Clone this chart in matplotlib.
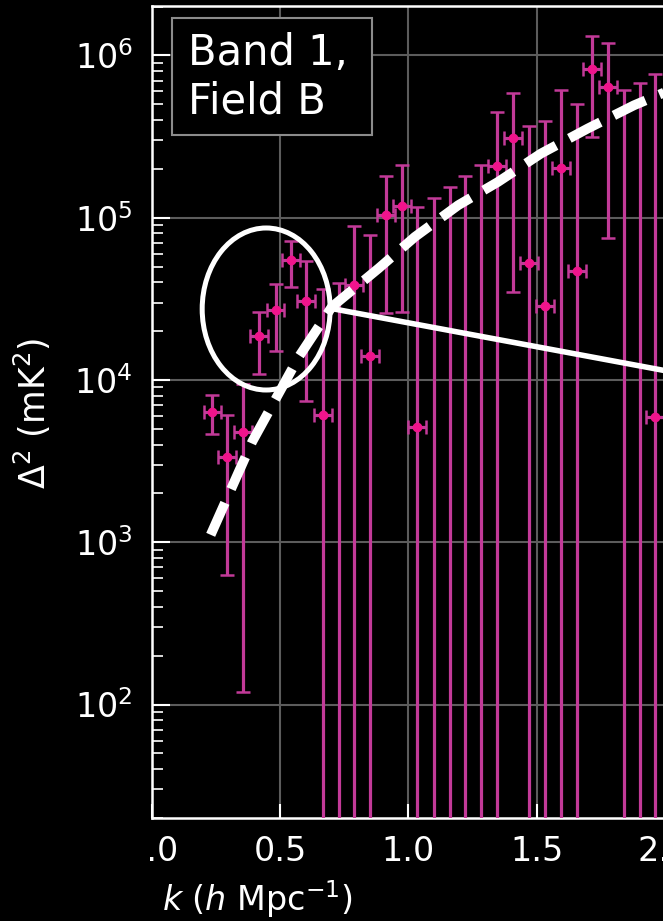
import matplotlib
matplotlib.use('Agg')
import matplotlib.pyplot as plt
from matplotlib.patches import Ellipse, Rectangle
from matplotlib.lines import Line2D
from matplotlib.transforms import Bbox

# Binned power spectrum, Band 1 / Field B
k = [0.235, 0.293, 0.354, 0.416, 0.481, 0.543, 0.601, 0.666, 0.727, 0.787,
     0.850, 0.912, 0.973, 1.035, 1.099, 1.161, 1.222, 1.284, 1.345, 1.407,
     1.472, 1.533, 1.595, 1.657, 1.718, 1.779, 1.841, 1.903, 1.964]
delta2 = [6380, 3345, 4810, 18650, 26970, 54700, 30750, 6090, -2500, 38400,
          14060, 103600, 118300, 5160, -12000, -25000, -20000, -15000, 207600, 311400,
          52300, 28500, 202600, 47100, 820000, 638000, -15000, -21000, 5940]
sigma = [1750, 2720, 4690, 7700, 11900, 17400, 23300, 30500, 42000, 50600,
         64000, 77800, 92200, 111400, 145000, 180000, 200800, 225000, 240400, 276500,
         314700, 366000, 406400, 451900, 506000, 563000, 630000, 700000, 765000]
k_halfwidth = 0.035

# Thermal noise model
k_model = [0.228, 0.390, 0.572, 0.701, 0.883, 1.025, 1.194, 1.349, 1.517, 1.699, 1.880, 2.050]
delta2_model = [1112, 4170, 13900, 28250, 48700, 76200, 119400, 166000, 248500, 354000, 492600, 640000]

xticks = [0.0, 0.5, 1.0, 1.5, 2.0, 2.5]

fig = plt.figure(figsize=(6.63, 9.21), dpi=100, facecolor='black')
ax = fig.add_axes([0.2297, 0.1118, 0.966, 0.8822])
ax.set_facecolor('black')
ax.set_yscale('log')

ax.errorbar(k, delta2, yerr=sigma, xerr=k_halfwidth, fmt='o', ms=6,
            color='#f0148c', ecolor='#c23a98', elinewidth=2.3,
            capsize=5, capthick=1.8, zorder=3)
ax.plot(k_model, delta2_model, color='white', lw=7, dashes=(3.6, 1.55),
        solid_capstyle='butt', zorder=4)

ax.set_xlim(0.0, 2.5)
ax.set_ylim(20, 2.03e6)
ax.set_xticks(xticks)

ax.grid(True, which='major', color='#5c5c5c', lw=1.5)
ax.set_axisbelow(True)
for side, spine in ax.spines.items():
    spine.set_color('white')
    spine.set_linewidth(1.8)

ax.tick_params(which='both', direction='in', colors='white', labelsize=24)
ax.tick_params(axis='y', which='major', length=13, width=1.5, pad=14)
ax.tick_params(axis='y', which='minor', length=8, width=1.2)
ax.tick_params(axis='x', which='major', length=10, width=1.5, pad=12)

# first x tick label sits partly under the y-axis panel edge
first = ax.get_xticklabels()[0]
first.set_clip_box(Bbox.from_extents(150, 0, 2000, 921))
first.set_clip_on(True)

ax.set_xlabel(r'$k$ ($h$ Mpc$^{-1}$)', color='white', fontsize=24)
ax.xaxis.set_label_coords(0.1642, -0.0745)
ax.set_ylabel(r'$\Delta^2$ (mK$^2$)', color='white', fontsize=25)
ax.yaxis.set_label_coords(-0.155, 0.4985)

# field label box
ax.add_patch(Rectangle((0.0308, 0.8406), 0.3123, 0.144, transform=ax.transAxes,
                       fc='black', ec='#8c8c8c', lw=1.5, zorder=5))
ax.text(0.0559, 0.9674, 'Band 1,\nField B', transform=ax.transAxes,
        ha='left', va='top', fontsize=30, color='white', linespacing=1.2, zorder=6)

# highlight of the low-k excess and pointer to the zoom panel
ax.add_patch(Ellipse((0.1778, 0.6265), 0.1998, 0.1994, transform=ax.transAxes,
                     fill=False, ec='white', lw=3.6, zorder=7))
ax.add_line(Line2D([0.2826, 1.1673], [0.6267, 0.4968], transform=ax.transAxes,
                   color='white', lw=4, clip_on=False, zorder=7))

fig.savefig('out.png', dpi=100, facecolor='black')
